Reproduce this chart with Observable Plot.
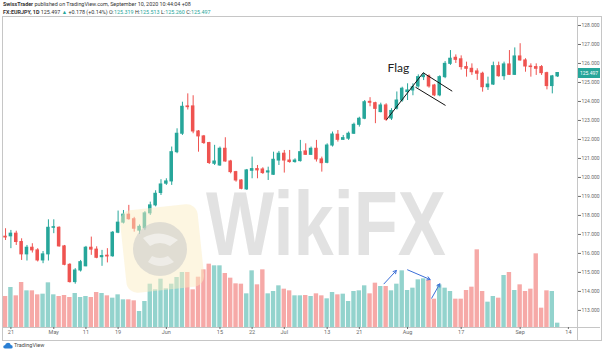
<!DOCTYPE html>
<html><head><meta charset="utf-8">
<script src="https://cdn.jsdelivr.net/npm/d3@7"></script>
<script src="https://cdn.jsdelivr.net/npm/@observablehq/plot@0.6"></script>
<style>
body{margin:0;background:#fff;font-family:Roboto,"Liberation Sans",sans-serif;}
#wrap{position:relative;width:602px;height:351px;overflow:hidden;background:#fff;}
#wrap > *{position:absolute;}
.hd{left:3px;font-size:5.4px;line-height:7px;color:#333;white-space:nowrap;}
.t{color:#26a69a;}
</style></head><body><div id="wrap"></div>
<script>
// ---- data (EUR/JPY daily, trading-day index: 0 = Apr 21, 2020) ----
const firstIndex = -1;
const opens = [116.88,116.90,117.04,116.60,115.95,116.30,116.16,115.63,115.95,117.35,117.35,116.37,115.40,114.49,115.10,115.32,116.30,116.20,115.80,115.88,115.85,117.09,117.62,118.04,117.80,117.20,117.32,118.11,118.53,119.18,119.67,119.79,121.33,122.30,123.74,123.74,122.42,122.16,121.81,120.72,120.63,121.51,120.84,120.28,119.84,119.37,120.35,120.44,120.42,120.26,120.14,120.89,121.25,120.89,120.81,120.86,121.37,121.19,121.51,120.95,120.77,121.68,122.25,121.98,122.04,122.30,122.77,123.09,123.98,123.91,123.44,123.79,123.10,123.62,124.05,124.49,124.58,124.79,125.28,125.32,124.84,124.32,125.28,125.98,126.30,126.22,125.81,125.72,125.58,125.46,124.75,124.89,125.86,125.33,125.95,125.40,126.37,126.16,125.84,125.81,125.81,125.49,124.81,125.319];
const highs = [117.30,117.21,117.17,116.77,116.42,116.51,116.25,116.10,117.77,117.77,117.40,116.42,115.46,115.20,115.63,116.37,116.86,116.35,116.16,116.25,117.15,118.23,118.26,118.53,117.90,117.50,118.20,118.70,119.30,119.88,119.93,121.60,122.56,123.96,124.40,124.30,122.47,122.21,121.85,121.69,121.60,122.09,120.90,120.32,119.88,120.42,121.07,120.63,120.51,120.54,121.33,121.37,121.42,121.42,120.98,121.95,121.77,121.60,121.95,121.07,121.77,122.39,122.47,122.21,122.39,122.86,123.17,124.05,124.20,123.96,123.91,123.88,123.62,124.50,124.75,124.93,124.93,125.40,125.50,125.40,124.90,125.35,126.10,126.68,126.45,126.40,126.07,125.98,125.72,125.54,125.28,126.07,126.07,126.07,126.68,126.82,127.04,126.25,125.98,125.98,125.89,125.54,125.37,125.513];
const lows = [116.68,116.25,116.42,115.63,115.60,116.02,115.55,115.46,115.60,117.04,116.33,115.35,114.44,114.38,115.02,115.30,115.90,115.72,115.32,115.50,115.80,117.04,117.55,117.75,117.12,117.00,117.20,118.00,118.45,119.05,119.58,119.58,121.25,122.21,123.55,122.30,121.33,121.74,120.68,120.63,120.58,120.80,120.19,119.75,119.35,119.32,119.93,119.93,120.16,119.84,120.11,120.63,120.23,120.75,120.75,120.81,121.16,121.16,120.81,120.28,120.72,121.60,121.86,121.95,121.95,122.26,122.65,123.04,123.72,122.83,123.40,122.95,123.00,123.55,123.96,124.05,124.30,124.70,125.10,124.70,124.25,124.25,125.20,125.90,126.00,125.65,125.28,125.37,125.11,124.49,124.58,124.84,125.28,125.11,125.37,125.37,126.12,125.54,125.28,125.37,125.37,124.61,124.40,125.260];
const closes = [116.84,117.04,116.60,115.95,116.30,116.16,115.63,115.95,117.35,117.38,116.37,115.40,114.49,115.10,115.54,116.30,116.20,115.77,115.86,115.84,117.09,117.62,118.04,117.80,117.30,117.40,118.11,118.53,119.14,119.63,119.79,121.33,122.30,123.72,123.70,122.42,122.16,121.81,120.76,120.84,121.51,120.84,120.28,119.84,119.40,120.37,120.44,120.37,120.23,120.32,120.93,121.25,120.89,120.81,120.89,121.33,121.19,121.51,120.95,120.75,121.68,122.26,121.98,122.07,122.30,122.77,123.09,123.96,123.93,123.61,123.79,123.04,123.50,124.05,124.67,124.58,124.75,125.28,125.37,124.79,124.32,125.28,125.98,126.25,126.19,125.81,125.72,125.54,125.46,124.75,124.89,125.86,125.33,125.95,125.40,126.37,126.16,125.84,125.81,125.72,125.49,124.81,125.32,125.497];
const volumes = [93,120,95,135,110,110,98,100,134,98,93,96,90,102,90,93,90,105,102,95,88,98,83,83,80,48,78,130,113,145,116,130,150,165,165,113,151,173,190,185,185,162,148,131,130,101,170,128,173,101,108,125,115,110,95,95,96,93,101,95,86,105,98,100,78,108,110,125,101,133,123,123,110,130,170,111,118,143,146,141,85,128,118,108,85,85,111,121,233,108,76,93,88,156,165,111,128,108,115,221,58,110,108,13];

const priceTicks = [113,114,115,116,117,118,119,120,121,122,123,124,125,126,127,128];
const tickIndex  = [0,8,14,20,29,39,45,51,59,65,74,84,95,104];
const tickLabels = ["21","May","11","19","Jun","15","22","Jul","13","21","Aug","17","Sep","14"];

// flag pattern lines (index, price)
const flagX1 = [70.07,76.92,75.48], flagY1 = [123.04,125.51,124.75];
const flagX2 = [76.92,82.33,81.08], flagY2 = [125.51,124.54,123.79];
// volume arrows (index, volume)
const arrX1 = [69.6,74.0,78.5], arrV1 = [131,173,88];
const arrX2 = [71.9,78.2,80.0], arrV2 = [171,144,131];

const lastPrice = 125.497;

// ---- build ----
const G="#26a69a", R="#ef5350", GV="#93d3cd", RV="#f6a9a7";
const rows = opens.map((o,k)=>({i:k+firstIndex,o,h:highs[k],l:lows[k],c:closes[k],v:volumes[k],up:closes[k]>=o}));
const flags = flagX1.map((x,k)=>({x1:x,y1:flagY1[k],x2:flagX2[k],y2:flagY2[k]}));
const arrows = arrX1.map((x,k)=>({x1:x,y1:arrV1[k],x2:arrX2[k],y2:arrV2[k]}));
const M = {width:602,height:351,marginLeft:3,marginRight:25,marginTop:17,marginBottom:24};
const xd = [-1.38,105.7];

const wrap = document.getElementById("wrap");
function add(html, css){const d=document.createElement("div");d.innerHTML=html;Object.assign(d.style,css);wrap.appendChild(d);return d;}

// frame
add("",{left:"2px",top:"16px",width:"598px",height:"323px",border:"1px solid #c6c6c6"});
add("",{left:"577px",top:"16px",width:"1px",height:"324px",background:"#c6c6c6"});
add("",{left:"3px",top:"327px",width:"597px",height:"1px",background:"#c6c6c6"});

const vol = Plot.plot({...M, style:{background:"transparent"},
  x:{domain:xd,axis:null}, y:{domain:[0,930],axis:null},
  marks:[
    Plot.rect(rows,{x1:d=>d.i-0.41,x2:d=>d.i+0.41,y1:0,y2:"v",fill:d=>d.up?GV:RV}),
    Plot.arrow(arrows,{x1:"x1",y1:"y1",x2:"x2",y2:"y2",stroke:"#3c6fd8",strokeWidth:1,headLength:5})
  ]});
vol.style.position="absolute";vol.style.left="0";vol.style.top="0";
wrap.appendChild(vol);

const price = Plot.plot({...M, style:{background:"transparent",fontFamily:"Roboto, sans-serif"},
  x:{domain:xd}, y:{domain:[112.1,128.42]},
  marks:[
    Plot.axisY({anchor:"right",ticks:priceTicks,tickFormat:d3.format(".3f"),tickSize:3,tickPadding:1,fontSize:5,color:"#6a6a6a",label:null}),
    Plot.axisX({anchor:"bottom",ticks:tickIndex,tickFormat:i=>tickLabels[tickIndex.indexOf(i)],tickSize:2,tickPadding:1,fontSize:5.5,color:"#6a6a6a",label:null}),
    Plot.ruleX(rows,{x:"i",y1:"l",y2:"h",stroke:d=>d.up?G:R,strokeWidth:1}),
    Plot.rect(rows,{x1:d=>d.i-0.33,x2:d=>d.i+0.33,y1:d=>Math.min(d.o,d.c),y2:d=>Math.max(d.o,d.c),fill:d=>d.up?G:R,insetTop:-0.5,insetBottom:-0.5}),
    Plot.link(flags,{x1:"x1",y1:"y1",x2:"x2",y2:"y2",stroke:"#111",strokeWidth:1}),
    Plot.text(["Flag"],{x:72.3,y:125.74,text:d=>d,fontSize:12,fill:"#222",fontFamily:"Lato, sans-serif"})
  ]});
price.style.position="absolute";price.style.left="0";price.style.top="0";
wrap.appendChild(price);

// last price label on the axis
const yLast = price.scale("y").apply(lastPrice);
add(d3.format(".3f")(lastPrice),{left:"578px",top:(yLast-5)+"px",width:"22px",height:"10px",background:G,color:"#fff",fontSize:"5px",lineHeight:"10px",textAlign:"center"});

// watermark
const ns="http://www.w3.org/2000/svg";
const wm = document.createElementNS(ns,"svg");
wm.setAttribute("width","602");wm.setAttribute("height","351");
wm.style.position="absolute";wm.style.left="0";wm.style.top="0";
wm.innerHTML = `
 <g transform="rotate(-6 162 248)">
  <rect x="123" y="207" width="78" height="83" rx="11" fill="#fbeec4" opacity="0.5"/>
 </g>
 <circle cx="160" cy="249" r="27" fill="#c9c9c9" opacity="0.55"/>
 <path d="M143 238 Q160 228 178 240 L170 246 Q160 240 150 246 Z" fill="#fff" opacity="0.5"/>
 <path d="M148 262 Q160 270 174 262 L168 256 Q160 260 152 256 Z" fill="#fff" opacity="0.45"/>
 <text x="206" y="255" font-family="Liberation Sans, Arial, sans-serif" font-weight="700" font-size="90" fill="#dcdcdc" opacity="0.8" textLength="240" lengthAdjust="spacingAndGlyphs">WikiFX</text>`;
wrap.appendChild(wm);

// header
add(`<b>SwissTrader</b> published on TradingView.com, September 10, 2020 10:44:04 +08`,{top:"1px"}).className="hd";
add(`<b>FX:EURJPY, 1D</b> 125.497 <span class="t">▲</span> +0.178 (+0.14%) O:<span class="t">125.319</span> H:<span class="t">125.513</span> L:<span class="t">125.260</span> C:<span class="t">125.497</span>`,{top:"9px"}).className="hd";

// footer
add(`<svg width="10" height="7" viewBox="0 0 10 7"><path d="M2 6.5 Q0 6.5 0.3 4.6 Q0.6 3.2 2 3.3 Q2.4 0.8 5 0.8 Q7.4 0.8 7.8 3 Q9.8 3.2 9.7 4.9 Q9.6 6.5 8 6.5 Z" fill="#2a7fd4"/></svg>`,{left:"3px",top:"342px",width:"10px",height:"7px",lineHeight:"0"});
add(`TradingView`,{left:"14px",top:"342px",fontSize:"5.5px",lineHeight:"7px",color:"#444"});
</script></body></html>
